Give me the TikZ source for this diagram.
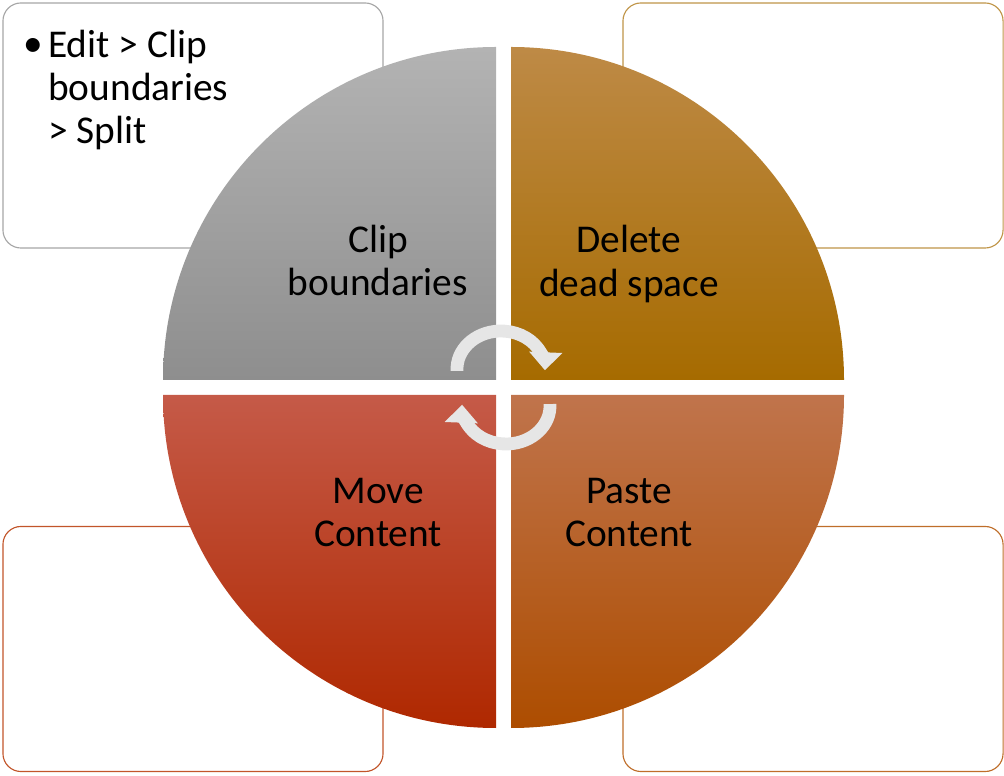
\documentclass[tikz,border=0pt]{standalone}
\usepackage{fontspec}
\setmainfont{Carlito}
\definecolor{cyGrayTop}{HTML}{B3B3B3}
\definecolor{cyGrayBot}{HTML}{8E8E8E}
\definecolor{cyGoldTop}{HTML}{BE8A46}
\definecolor{cyGoldBot}{HTML}{A66B00}
\definecolor{cyRedTop}{HTML}{C55A48}
\definecolor{cyRedBot}{HTML}{AF2800}
\definecolor{cyRustTop}{HTML}{C0744C}
\definecolor{cyRustBot}{HTML}{AD4D00}
\definecolor{cyGrayLine}{HTML}{A6A6A6}
\definecolor{cyGoldLine}{HTML}{C09548}
\definecolor{cyRedLine}{HTML}{C2552A}
\definecolor{cyRustLine}{HTML}{BF6E2A}
\definecolor{cyArrow}{HTML}{E6E6E6}
\usetikzlibrary{calc,positioning,arrows.meta}

\begin{document}
\begin{tikzpicture}[x=0.025cm, y=0.025cm,
  panel/.style={draw, fill=white, rounded corners=0.45cm, line width=0.8pt,
    minimum width=9.5cm, minimum height=6.125cm, inner sep=0pt},
  label/.style={text=black, align=center, font=\fontsize{28}{30.6}\selectfont},
  cyc/.style={line width=0.32cm, color=cyArrow, -{Triangle[width=0.8cm, length=0.45cm]}}
]
  \useasboundingbox (0,0) rectangle (1004,775);

  % corner panels
  \node[panel, draw=cyGrayLine] (clippanel) at (193,649.5) {};
  \node[panel, draw=cyGoldLine] (deletepanel) at (813,649.5) {};
  \node[panel, draw=cyRedLine] (movepanel) at (193,126) {};
  \node[panel, draw=cyRustLine] (pastepanel) at (813,126) {};

  % quarters of the cycle
  \shade[top color=cyGrayTop, bottom color=cyGrayBot]
    (496,395) -- (163,395) arc[start angle=180, end angle=90, radius=333] -- cycle;
  \shade[top color=cyGoldTop, bottom color=cyGoldBot]
    (511,395) -- (511,728) arc[start angle=90, end angle=0, radius=333] -- cycle;
  \shade[top color=cyRedTop, bottom color=cyRedBot]
    (496,380) -- (163,380) arc[start angle=180, end angle=270, radius=333] -- cycle;
  \shade[top color=cyRustTop, bottom color=cyRustBot]
    (511,380) -- (844,380) arc[start angle=0, end angle=-90, radius=333] -- cycle;

  \node[label] (clip) at (378,515) {Clip\\boundaries};
  \node[label] (delete) at (629,511) {Delete\\dead space};
  \node[label] (move) at (378,262.5) {Move\\Content};
  \node[label] (paste) at (629,262.5) {Paste\\Content};

  % note in the first panel
  \node[label, anchor=base] (bullet) at (33,718) {•};
  \node[label, align=left, anchor=north west, inner sep=0pt] (splitnote) at (48,745)
    {Edit > Clip\\boundaries\\> Split};

  % turning arrows
  \coordinate (hubtop) at (501,406);
  \coordinate (hubbot) at (506,369);
  \draw[cyc] ($(hubtop)+(183:44 and 38)$) arc[start angle=183, end angle=-2, x radius=44, y radius=38];
  \draw[cyc] ($(hubbot)+(3:44 and 38)$) arc[start angle=3, end angle=-182, x radius=44, y radius=38];
\end{tikzpicture}
\end{document}
